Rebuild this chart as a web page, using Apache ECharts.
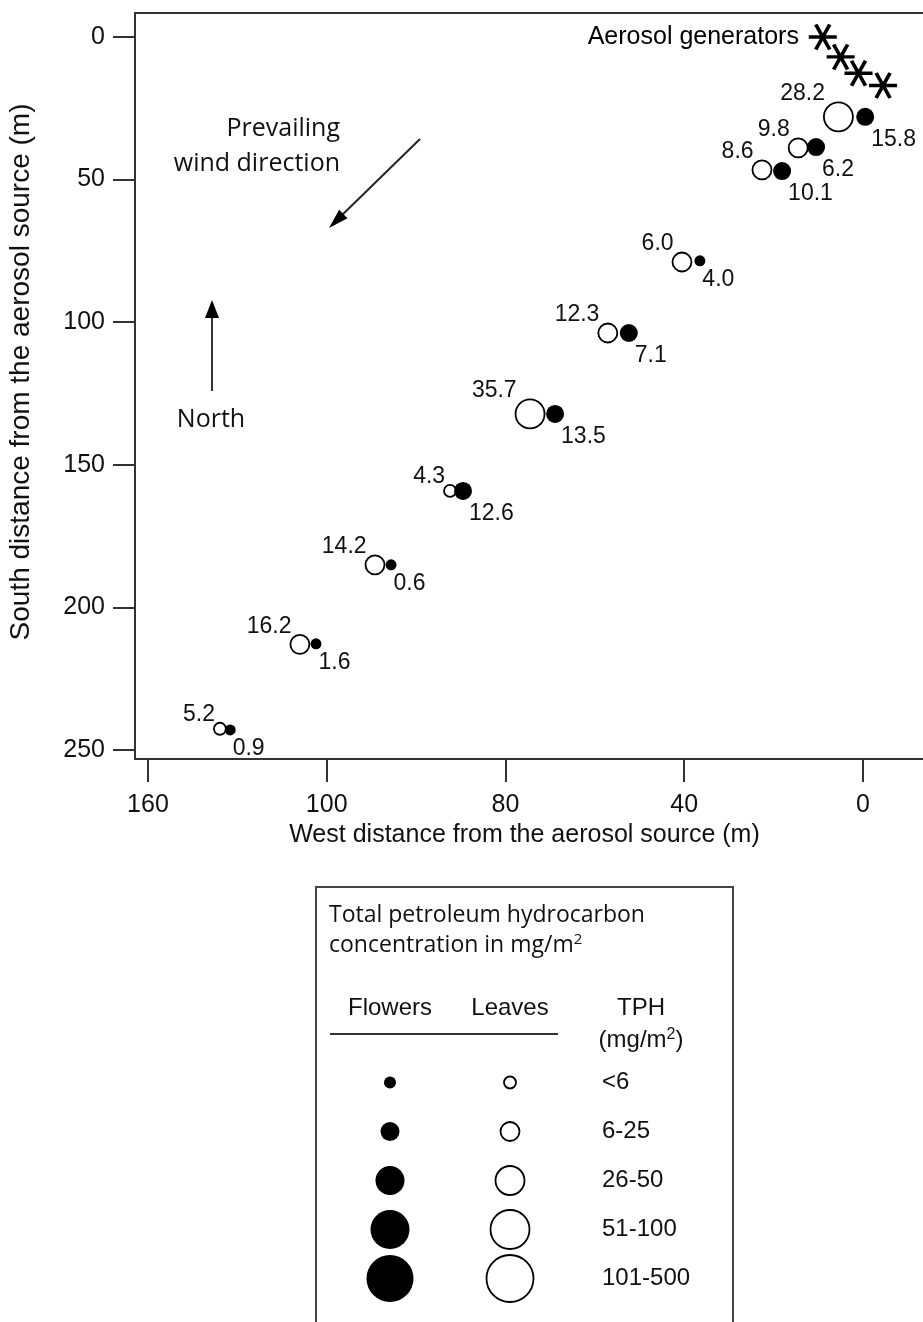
<!DOCTYPE html>
<html><head><meta charset="utf-8">
<script src="https://cdn.jsdelivr.net/npm/echarts@6/dist/echarts.min.js"></script>
<style>html,body{margin:0;padding:0;background:#fff}#c{width:923px;height:1322px}</style>
</head><body><div id="c"></div>
<script>
// ---- data ----
const generatorsX = [9, 5, 1, -4.5];
const generatorsY = [0, 7, 12.7, 17];
const leavesX = [5.5, 14.5, 22.6, 40.5, 57.1, 74.5, 92.4, 109.2, 126.0, 143.9];
const leavesY = [28, 38.9, 46.6, 78.9, 103.8, 132.2, 159.2, 185.1, 213, 242.6];
const leavesTPH = [28.2, 9.8, 8.6, 6.0, 12.3, 35.7, 4.3, 14.2, 16.2, 5.2];
const flowersX = [-0.5, 10.5, 18.1, 36.5, 52.4, 68.9, 89.5, 105.6, 122.4, 141.6];
const flowersY = [28, 38.6, 47, 78.5, 103.8, 132.2, 159.2, 185.1, 212.8, 243];
const flowersTPH = [15.8, 6.2, 10.1, 4.0, 7.1, 13.5, 12.6, 0.6, 1.6, 0.9];
const xTickValues = [160, 120, 80, 40, 0];
const xTickLabels = ['160', '100', '80', '40', '0'];
const yTickValues = [0, 50, 100, 150, 200, 250];
const tphClasses = ['<6', '6-25', '26-50', '51-100', '101-500'];
const classUpper = [6, 25, 50, 100, 500];
const legendColumns = ['Flowers', 'Leaves', 'TPH'];

// ---- styling ----
const classSizes = [12, 19, 29, 39, 47];
const ARIAL = '"Liberation Sans", Arial, sans-serif';
const MYRIAD = '"Open Sans", sans-serif';
function classIndex(v) {
  if (v < classUpper[0]) return 0;
  for (let i = 1; i < classUpper.length; i++) if (v <= classUpper[i]) return i;
  return classUpper.length - 1;
}
const leavesData = leavesX.map((x, i) => [x, leavesY[i], leavesTPH[i]]);
const flowersData = flowersX.map((x, i) => [x, flowersY[i], flowersTPH[i]]);
const genData = generatorsX.map((x, i) => [x, generatorsY[i]]);
const asterisk = 'path://M0,50L100,50M25,6.7L75,93.3M75,6.7L25,93.3';

const legendFlowers = tphClasses.map((c, i) => ['Flowers', c, i]);
const legendLeaves = tphClasses.map((c, i) => ['Leaves', c, i]);
const legendText = tphClasses.map((c, i) => ['TPH', c, i]);

const chart = echarts.init(document.getElementById('c'), null, {renderer: 'canvas'});
chart.setOption({
  animation: false,
  backgroundColor: '#fff',
  grid: [
    {left: 135, top: 13, width: 793, height: 746, show: true, borderColor: '#333', borderWidth: 2,
     backgroundColor: 'transparent', outerBoundsMode: 'none', containLabel: false},
    {left: 330, top: 1058, width: 360, height: 245, outerBoundsMode: 'none', containLabel: false}
  ],
  xAxis: [
    {
      gridIndex: 0, type: 'value', inverse: true, min: -14.55, max: 162.9,
      splitLine: {show: false},
      axisLine: {show: true, onZero: false, lineStyle: {color: '#333', width: 2}},
      axisTick: {show: true, inside: false, length: 23, customValues: xTickValues, lineStyle: {color: '#333', width: 2}},
      axisLabel: {customValues: xTickValues, margin: 34, color: '#111', fontFamily: ARIAL, fontSize: 25,
        formatter: v => xTickLabels[xTickValues.indexOf(v)]},
      name: 'West distance from the aerosol source (m)', nameLocation: 'middle', nameGap: 56,
      nameTextStyle: {color: '#111', fontFamily: ARIAL, fontSize: 25, padding: [0, 14, 0, 0]}
    },
    {
      gridIndex: 1, type: 'category', data: legendColumns, position: 'top',
      axisLine: {show: false}, axisTick: {show: false}, splitLine: {show: false},
      axisLabel: {margin: 2, interval: 0, color: '#111',
        formatter: v => v === 'TPH' ? '{p|TPH}\n{p|(mg/m}{s|2}{q|)}' : '{a|' + v + '}\n{a| }',
        rich: {
          a: {fontFamily: ARIAL, fontSize: 24, lineHeight: 32, color: '#111'},
          p: {fontFamily: ARIAL, fontSize: 24, lineHeight: 32, color: '#111', padding: [0, 0, 0, 22]},
          q: {fontFamily: ARIAL, fontSize: 24, lineHeight: 32, color: '#111'},
          s: {fontFamily: ARIAL, fontSize: 16, lineHeight: 32, color: '#111', padding: [0, 0, 10, 0]}
        }
      }
    }
  ],
  yAxis: [
    {
      gridIndex: 0, type: 'value', inverse: true, min: -8.42, max: 253.2,
      splitLine: {show: false},
      axisLine: {show: true, onZero: false, lineStyle: {color: '#333', width: 2}},
      axisTick: {show: true, length: 22, customValues: yTickValues, lineStyle: {color: '#333', width: 2}},
      axisLabel: {customValues: yTickValues, margin: 30, color: '#111', fontFamily: ARIAL, fontSize: 25},
      name: 'South distance from the aerosol source (m)', nameLocation: 'middle', nameGap: 100, nameRotate: 90,
      nameTextStyle: {color: '#111', fontFamily: ARIAL, fontSize: 28, padding: [0, 0, 0, 28]}
    },
    {
      gridIndex: 1, type: 'category', data: tphClasses, inverse: true, show: false
    }
  ],
  series: [
    {
      type: 'scatter', name: 'Aerosol generators', xAxisIndex: 0, yAxisIndex: 0,
      data: genData, symbol: asterisk, symbolSize: [28, 25], symbolKeepAspect: false,
      itemStyle: {color: '#000', borderColor: '#000', borderWidth: 3.5, opacity: 1},
      label: {show: true, position: 'left', distance: 8, color: '#000', fontFamily: ARIAL, fontSize: 25,
        formatter: p => p.dataIndex === 0 ? 'Aerosol generators' : ''},
      z: 3
    },
    {
      type: 'scatter', name: 'Leaves', xAxisIndex: 0, yAxisIndex: 0,
      data: leavesData, symbol: 'circle',
      symbolSize: v => classSizes[classIndex(v[2])],
      itemStyle: {color: '#fff', borderColor: '#000', borderWidth: 1.8, opacity: 1},
      label: {show: true, position: [2, 4], align: 'right', verticalAlign: 'bottom',
        color: '#111', fontFamily: ARIAL, fontSize: 23, formatter: p => p.value[2].toFixed(1)},
      z: 4
    },
    {
      type: 'scatter', name: 'Flowers', xAxisIndex: 0, yAxisIndex: 0,
      data: flowersData, symbol: 'circle',
      symbolSize: v => classSizes[classIndex(v[2])] - 1,
      itemStyle: {color: '#000', opacity: 1},
      label: {show: true, position: ['100%', '100%'], offset: [-3, 2], align: 'left', verticalAlign: 'top',
        color: '#111', fontFamily: ARIAL, fontSize: 23, formatter: p => p.value[2].toFixed(1)},
      z: 5
    },
    {
      type: 'scatter', name: 'legendFlowers', xAxisIndex: 1, yAxisIndex: 1,
      data: legendFlowers, symbol: 'circle', symbolSize: v => classSizes[v[2]],
      itemStyle: {color: '#000', opacity: 1}
    },
    {
      type: 'scatter', name: 'legendLeaves', xAxisIndex: 1, yAxisIndex: 1,
      data: legendLeaves, symbol: 'circle', symbolSize: v => classSizes[v[2]],
      itemStyle: {color: '#fff', borderColor: '#000', borderWidth: 1.8, opacity: 1}
    },
    {
      type: 'scatter', name: 'legendText', xAxisIndex: 1, yAxisIndex: 1,
      data: legendText, symbolSize: 0, itemStyle: {opacity: 1},
      label: {show: true, position: 'inside', align: 'left', offset: [-28, 0], color: '#111',
        fontFamily: ARIAL, fontSize: 24, formatter: p => p.value[1]}
    }
  ],
  graphic: [
    // wind arrow
    {type: 'line', shape: {x1: 420, y1: 139, x2: 338, y2: 219}, style: {stroke: '#222', lineWidth: 2}, z: 10},
    {type: 'polygon', shape: {points: [[329, 228], [347.5, 218.3], [339.1, 209.7]]}, style: {fill: '#000'}, z: 10},
    {type: 'text', x: 340, y: 146, style: {text: 'Prevailing\nwind direction', align: 'right', verticalAlign: 'middle',
      lineHeight: 35, fill: '#111', font: '25px ' + MYRIAD}, z: 10},
    // north arrow
    {type: 'line', shape: {x1: 212, y1: 391, x2: 212, y2: 312}, style: {stroke: '#333', lineWidth: 2}, z: 10},
    {type: 'polygon', shape: {points: [[212, 300], [205, 318], [219, 318]]}, style: {fill: '#000'}, z: 10},
    {type: 'text', x: 211, y: 420, style: {text: 'North', align: 'center', verticalAlign: 'middle',
      fill: '#111', font: '25px ' + MYRIAD}, z: 10},
    // legend box
    {type: 'rect', shape: {x: 316, y: 887, width: 417, height: 470}, style: {fill: 'none', stroke: '#444', lineWidth: 2}, z: 1},
    {type: 'line', shape: {x1: 330, y1: 1034, x2: 558, y2: 1034}, style: {stroke: '#333', lineWidth: 2}, z: 10},
    {type: 'text', x: 329, y: 900, style: {
      text: '{t|Total petroleum hydrocarbon}\n{t|concentration in mg/m}{s|2}',
      rich: {t: {fontFamily: MYRIAD, fontSize: 23, lineHeight: 30, fill: '#111'},
             s: {fontFamily: MYRIAD, fontSize: 15, lineHeight: 30, fill: '#111', padding: [0, 0, 10, 0]}},
      fill: '#111'}, z: 10}
  ]
});
</script>
</body></html>
